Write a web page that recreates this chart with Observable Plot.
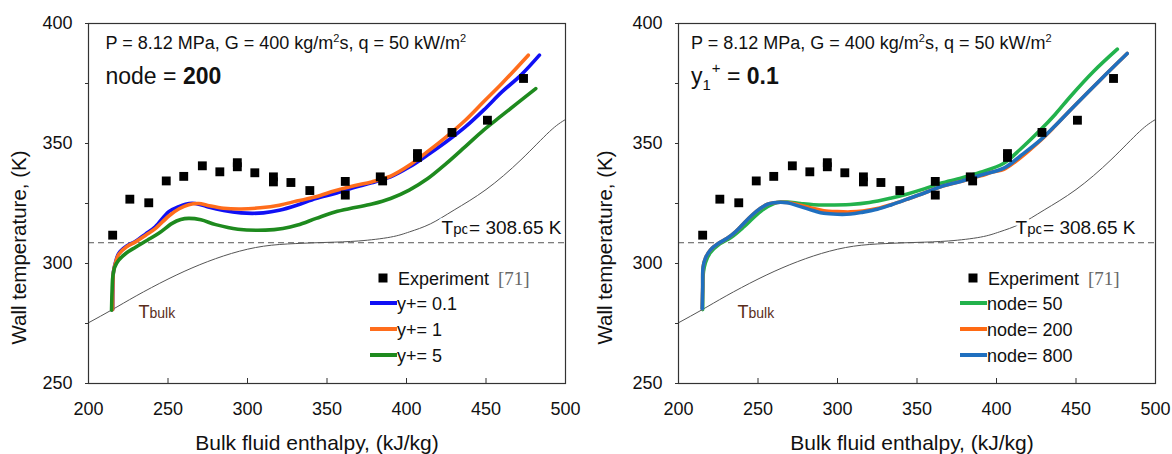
<!DOCTYPE html>
<html>
<head>
<meta charset="utf-8">
<script src="https://cdn.jsdelivr.net/npm/d3@7"></script>
<script src="https://cdn.jsdelivr.net/npm/@observablehq/plot@0.6"></script>
<style>
  body { margin: 0; background: white; }
  #wrap { display: flex; width: 1172px; height: 454px; }
  #wrap svg { display: block; }
</style>
</head>
<body>
<div id="wrap"></div>
<script>
// ---------- axis ticks ----------
const xTicks = [200, 250, 300, 350, 400, 450, 500];
const xInnerTicks = [250, 300, 350, 400, 450];
const yTicks = [250, 275, 300, 325, 350, 375, 400];
const Tpc = 308.65;

// ---------- experiment [71] ----------
const expH = [215.2, 226, 237.9, 248.9, 259.9, 271.6, 282.6, 293.6, 293.6, 304.6, 316.3, 316.3, 327.3, 339.2, 361.5, 361.5, 383.5, 385, 406.9, 406.9, 428.6, 450.9, 473.6];
const expT = [311.8, 326.8, 325.3, 334.4, 336.3, 340.7, 338.2, 342, 340.3, 337.8, 336.1, 334, 333.75, 330.4, 334.2, 328.5, 336.1, 334.4, 345.8, 344.2, 354.6, 359.7, 377.1];

// ---------- bulk temperature ----------
const bulkH = [200, 215, 230, 250, 270, 290, 310, 330, 350, 370, 390, 402, 415, 430, 450, 472, 490, 500];
const bulkT = [275.3, 280.8, 286.5, 293.5, 299.5, 304.2, 307.2, 308.3, 308.8, 309.4, 311, 313.2, 316.5, 322.3, 330.8, 343.2, 355, 360];

// ---------- left panel: node = 200 ----------
const yp01H = [215.2, 215.3, 215.7, 217, 219, 224, 229.6, 236, 242, 250.5, 256.8, 261, 265.2, 270, 276, 285, 296, 303, 310, 320, 331, 343, 355, 367, 378, 390, 402, 413, 425, 437, 448.5, 460, 472, 483.6];
const yp01T = [280.8, 289, 296.5, 300.5, 304.2, 307.3, 309.3, 312.3, 315.3, 321.6, 323.7, 324.7, 325.1, 324.6, 323.4, 322.1, 321.1, 320.9, 321.1, 322.2, 324.3, 327.1, 329.2, 331.7, 333.6, 336.1, 340.3, 345.1, 350.7, 356.9, 363.9, 371.5, 378.5, 386.8];
const yp1H = [215.2, 215.3, 215.7, 217, 219, 224, 229.6, 236, 242, 250.5, 257, 263, 269.4, 275, 285, 296, 308, 320, 331, 343, 355, 367, 378, 390, 402, 413, 425, 437, 448.5, 460, 476.6];
const yp1T = [280.8, 289, 296.5, 300.3, 303.8, 307, 309, 311.8, 314.5, 319.8, 322.8, 324.5, 325, 324.2, 323, 322.7, 323.2, 324.3, 326, 327.8, 330.3, 332.4, 334, 336.4, 341, 346.5, 352.8, 359.7, 367.4, 375, 386.8];
const yp5H = [214.5, 214.8, 215.3, 216.5, 219, 224, 229.6, 237, 244.2, 252.6, 258, 263, 270.7, 280, 294, 311.3, 322.2, 331.5, 343.2, 355, 366.6, 378.3, 390, 401.7, 413.4, 425.1, 436.8, 448.5, 460.2, 481.3];
const yp5T = [280.5, 288, 294.5, 298.5, 301.4, 304.5, 306.8, 309.7, 312.6, 316.7, 318.3, 318.8, 318.2, 316.2, 314.3, 313.9, 314.6, 316, 318.8, 321.5, 323.2, 324.8, 327.1, 330.6, 335.4, 341.7, 348.6, 355.6, 361.8, 372.9];

// ---------- right panel: y1+ = 0.1 ----------
const n50H = [215.2, 215.3, 215.7, 217, 220, 226, 233, 241, 247, 253, 260, 264.2, 268.4, 276.7, 285, 293.5, 308, 320, 333.3, 344, 355, 364.8, 378, 390, 404.6, 415, 427.7, 437, 446.5, 461, 476];
const n50T = [280.8, 289, 296.5, 300.5, 304.5, 308.2, 310.8, 315.2, 319, 322.4, 325, 325.6, 325.6, 325, 324.5, 324.4, 324.6, 325.4, 327.2, 329, 331.2, 333.4, 335.6, 338, 341.8, 347.6, 355.7, 362.2, 369.6, 380, 389.3];
const n200H = [214.9, 215.2, 215.5, 217, 220, 225, 230.6, 236, 241, 246, 251.6, 256, 260, 264.2, 268.4, 276.7, 285, 291.4, 300, 308.2, 316, 325, 334, 343.8, 355, 364.8, 378, 390, 398, 404.6, 412, 427.7, 437, 446.5, 465.4, 482.2];
const n200T = [281.2, 290, 298.6, 302.3, 305.6, 308.3, 310.5, 313.3, 316.7, 320, 323, 324.7, 325.3, 325.5, 325.4, 324.3, 322.9, 322, 321.6, 321.5, 321.9, 322.9, 324.6, 326.8, 329.5, 332, 334.3, 336.5, 338.2, 339.2, 342.5, 351.3, 357.4, 364, 376.6, 387.5];
const n800H = [214.9, 215.2, 215.5, 217, 220, 225, 230.6, 236, 241, 246, 251.6, 256, 260, 264.2, 268.4, 276.7, 285, 291.4, 300, 308.2, 316, 325, 334, 343.8, 355, 364.8, 378, 390, 404.6, 415, 427.7, 437, 446.5, 465.4, 482.2];
const n800T = [281.2, 290, 298.6, 302.3, 305.6, 308.3, 310.5, 313.3, 316.7, 320, 323, 324.7, 325.3, 325.5, 325.3, 323.7, 322, 320.9, 320.5, 320.6, 321.4, 322.6, 324.5, 326.8, 329.5, 332, 334.3, 336.8, 339.7, 344.8, 351.5, 357.5, 364, 376.6, 387.5];

const leftSeries = [
  {name: "y+= 0.1", h: yp01H, t: yp01T, color: "#1010f5"},
  {name: "y+= 1", h: yp1H, t: yp1T, color: "#ff6d1c"},
  {name: "y+= 5", h: yp5H, t: yp5T, color: "#1e8a1e"}
];
const rightSeries = [
  {name: "node= 50", h: n50H, t: n50T, color: "#22b24c"},
  {name: "node= 200", h: n200H, t: n200T, color: "#ff6a13"},
  {name: "node= 800", h: n800H, t: n800T, color: "#1f6fbf"}
];

const toRows = (h, t) => h.map((v, i) => ({h: v, t: t[i]}));
const expRows = toRows(expH, expT);
const bulkRows = toRows(bulkH, bulkT);

const FONT = "'Liberation Sans', Arial, sans-serif";
const INK = "#111";

function rich(svg, key, segs) {
  svg.selectAll("text").filter(function() { return this.textContent === key; }).each(function() {
    const t = d3.select(this);
    t.text(null);
    for (const s of segs) {
      const sp = t.append("tspan").text(s.t);
      for (const k in (s.a || {})) sp.attr(k, s.a[k]);
    }
  });
}

function panel(cfg) {
  const H = 454, W = 586, mt = 23, mb = 71;
  const innerH = H - mt - mb;
  const chart = Plot.plot({
    width: W, height: H,
    marginLeft: cfg.ml, marginRight: cfg.mr, marginTop: mt, marginBottom: mb,
    x: {domain: [200, 500]},
    y: {domain: [250, 400]},
    style: {fontFamily: FONT, fontSize: "18px", color: INK, background: "white", overflow: "visible"},
    marks: [
      Plot.axisY({ticks: yTicks, tickSize: 3, tickPadding: 13, tickFormat: d => d % 50 === 0 ? String(d) : "", fontSize: 18, label: null, stroke: "#333"}),
      Plot.axisX({ticks: xTicks, tickSize: 0, tickPadding: 19, fontSize: 18, label: null}),
      Plot.tickX(xInnerTicks, {x: d => d, insetTop: innerH - 5, stroke: "#333", strokeWidth: 1}),
      Plot.line(bulkRows, {x: "h", y: "t", curve: "natural", stroke: "#555", strokeWidth: 1}),
      Plot.ruleY([Tpc], {y: d => d, stroke: "#555", strokeWidth: 1, strokeDasharray: "6,4"}),
      ...cfg.series.map(s => Plot.line(toRows(s.h, s.t), {x: "h", y: "t", stroke: s.color, strokeWidth: 3.6, curve: "catmull-rom"})),
      Plot.dot(expRows, {x: "h", y: "t", symbol: "square", r: 5, fill: "black", stroke: null}),
      Plot.frame({stroke: "#333", strokeWidth: 1.2}),
      // annotations
      Plot.text(["PARAMS"], {text: d => d, frameAnchor: "top-left", textAnchor: "start", lineAnchor: "bottom", dx: cfg.tx, dy: 25, fontSize: 18, fill: INK}),
      Plot.text(["CASE"], {text: d => d, frameAnchor: "top-left", textAnchor: "start", lineAnchor: "bottom", dx: cfg.tx, dy: 60, fontSize: 23, fill: INK}),
      Plot.text([Tpc], {y: d => d, text: () => "TPC", frameAnchor: "right", textAnchor: "end", lineAnchor: "bottom", dx: cfg.tpcDx, dy: -9, fontSize: 19, fill: INK, stroke: "white", strokeWidth: 6}),
      Plot.text(["TBULK"], {text: d => d, frameAnchor: "bottom-left", textAnchor: "start", lineAnchor: "bottom", dx: cfg.tbDx, dy: -66, fontSize: 18, fill: "#5a2d1a"}),
      Plot.text(["Bulk fluid enthalpy, (kJ/kg)"], {text: d => d, frameAnchor: "bottom", textAnchor: "middle", lineAnchor: "bottom", dx: cfg.xtDx, dy: 66, fontSize: 21, fill: INK}),
      Plot.text(["Wall temperature, (K)"], {text: d => d, frameAnchor: "left", textAnchor: "middle", lineAnchor: "middle", rotate: -90, dx: -(cfg.ml - 19), dy: 44, fontSize: 20.5, fill: INK})
    ]
  });
  const svg = d3.select(chart);
  rich(svg, "PARAMS", [
    {t: "P = 8.12 MPa, G = 400 kg/m"}, {t: "2", a: {"font-size": 11, dy: -7}}, {t: "s, q = 50 kW/m", a: {dy: 7}}, {t: "2", a: {"font-size": 11, dy: -7}}
  ]);
  rich(svg, "CASE", cfg.caseSegs);
  rich(svg, "TPC", [{t: "T"}, {t: "pc", a: {"font-size": 15}}, {t: "= 308.65 K"}]);
  rich(svg, "TBULK", [{t: "T"}, {t: "bulk", a: {"font-size": 14}}]);

  // legend
  const lx = cfg.ml + 282;
  const g = svg.append("g").attr("font-family", FONT).attr("font-size", 18).attr("fill", INK).attr("text-anchor", "start");
  g.append("rect").attr("x", cfg.ml + 295 - 4.5).attr("y", 278 - 4.5).attr("width", 9).attr("height", 9).attr("fill", "black");
  const et = g.append("text").attr("x", cfg.ml + 310).attr("y", 285).attr("text-anchor", "start");
  et.append("tspan").text("Experiment");
  et.append("tspan").attr("dx", 9).attr("font-family", "'Liberation Serif', 'Times New Roman', serif").attr("fill", "#666").attr("font-size", 19).text("[71]");
  cfg.series.forEach((s, i) => {
    const y = 303 + i * 26;
    g.append("line").attr("x1", lx).attr("x2", lx + 27).attr("y1", y).attr("y2", y).attr("stroke", s.color).attr("stroke-width", 4);
    g.append("text").attr("x", lx + 27).attr("y", y + 7).attr("text-anchor", "start").text(s.name);
  });
  return chart;
}

const wrap = document.getElementById("wrap");
wrap.appendChild(panel({
  ml: 88, mr: 21, tx: 17, tpcDx: -4, tbDx: 50, xtDx: -10,
  series: leftSeries,
  caseSegs: [{t: "node = "}, {t: "200", a: {"font-weight": "bold"}}]
}));
wrap.appendChild(panel({
  ml: 92, mr: 17, tx: 12.5, tpcDx: -20, tbDx: 59, xtDx: -5,
  series: rightSeries,
  caseSegs: [{t: "y"}, {t: "1", a: {"font-size": 15, dy: 6}}, {t: "+", a: {"font-size": 15, dy: -17, dx: 1}}, {t: " = ", a: {dy: 11}}, {t: "0.1", a: {"font-weight": "bold"}}]
}));
</script>
</body>
</html>
